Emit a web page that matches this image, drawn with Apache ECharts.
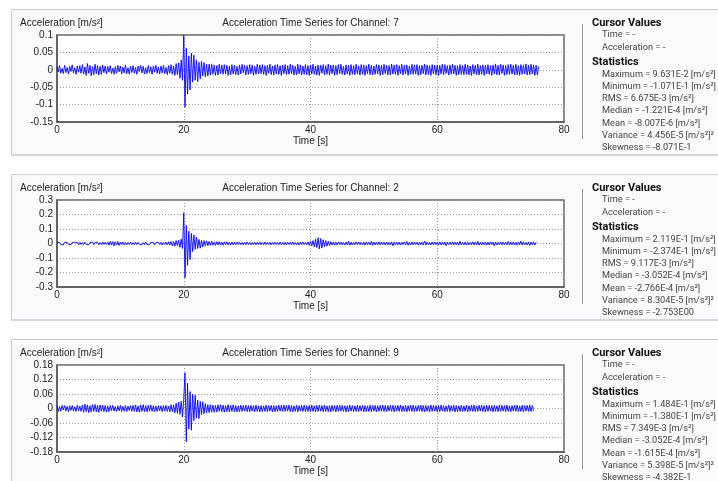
<!DOCTYPE html>
<html>
<head>
<meta charset="utf-8">
<script src="https://cdn.jsdelivr.net/npm/echarts@6/dist/echarts.min.js"></script>
<style>
html,body{margin:0;padding:0;background:#fff;}
#chart{width:718px;height:481px;}
</style>
</head>
<body>
<div id="chart"></div>
<script>
// ---- data (sample step 0.2 s, starting at 0 s) ----
const sampleStep = 0.2;
const channelNames = ['7', '2', '9'];
const xTicks = [0, 20, 40, 60, 80];

const ch7Values = [
 .009,-.006,.012,-.010,.004,-.011,.013,-.008,.007,-.012,.010,-.005,.014,-.009,.006,-.013,.011,-.007,.012,-.010,
 .015,-.012,.008,-.016,.018,-.010,.013,-.017,.009,-.014,.016,-.011,.012,-.015,.010,-.013,.014,-.008,.011,-.012,
 .010,-.007,.012,-.011,.005,-.013,.009,-.010,.013,-.006,.011,-.012,.008,-.009,.014,-.011,.006,-.012,.010,-.008,
 .012,-.010,.007,-.013,.011,-.005,.013,-.009,.010,-.012,.006,-.011,.012,-.008,.009,-.013,.011,-.007,.013,-.010,
 .008,-.012,.011,-.009,.013,-.011,.007,-.014,.012,-.010,.015,-.013,.011,-.016,.018,-.014,.020,-.024,.028,-.030,
 .100,-.107,.062,-.070,.040,-.058,.048,-.035,.042,-.030,.028,-.034,.022,-.026,.024,-.018,.021,-.020,.016,-.018,
 .016,-.015,.017,-.013,.014,-.016,.012,-.015,.016,-.011,.014,-.013,.015,-.012,.013,-.016,.011,-.014,.015,-.012,
 .013,-.014,.010,-.015,.014,-.012,.016,-.009,.013,-.015,.012,-.013,.015,-.011,.014,-.016,.010,-.013,.016,-.012,
 .014,-.011,.015,-.013,.012,-.016,.013,-.010,.016,-.014,.011,-.015,.014,-.012,.015,-.013,.012,-.016,.013,-.011,
 .015,-.014,.012,-.013,.016,-.011,.013,-.015,.010,-.014,.016,-.012,.014,-.015,.011,-.013,.015,-.014,.012,-.016,
 .014,-.012,.016,-.013,.011,-.015,.014,-.016,.013,-.010,.015,-.014,.012,-.013,.016,-.015,.013,-.011,.014,-.016,
 .012,-.014,.015,-.011,.016,-.013,.010,-.015,.014,-.012,.013,-.016,.015,-.013,.012,-.014,.016,-.012,.011,-.015,
 .015,-.013,.014,-.016,.012,-.011,.016,-.014,.013,-.015,.011,-.013,.015,-.012,.014,-.016,.013,-.014,.016,-.011,
 .013,-.015,.012,-.014,.016,-.012,.014,-.013,.015,-.016,.012,-.011,.016,-.015,.013,-.012,.014,-.016,.011,-.013,
 .016,-.013,.014,-.012,.015,-.016,.012,-.014,.013,-.011,.016,-.015,.014,-.013,.012,-.016,.015,-.012,.013,-.014,
 .014,-.016,.013,-.012,.016,-.014,.015,-.011,.012,-.015,.014,-.013,.016,-.012,.013,-.016,.012,-.014,.015,-.013,
 .012,-.014,.016,-.013,.014,-.015,.011,-.016,.015,-.012,.013,-.014,.016,-.015,.012,-.013,.014,-.016,.013,-.012,
 .015,-.013,.012,-.016,.014,-.012,.017,-.014,.013,-.015,.016,-.011,.014,-.016,.012,-.014,.015,-.013,.016,-.012,
 .013,-.015,.016,-.014,.012,-.016,.015,-.013,.014,-.012,.017,-.015,.013,-.014,.016,-.012,.014,-.016,.013,-.015,
 .010
];

const ch2Values = [
 .006,-.004,.008,-.007,.005,-.009,.007,-.005,.009,-.006,.004,-.008,.007,-.006,.008,-.005,.006,-.009,.008,-.007,
 .007,-.008,.009,-.005,.008,-.010,.006,-.007,.010,-.008,.007,-.006,.009,-.009,.006,-.008,.010,-.007,.008,-.006,
 .010,-.012,.015,-.011,.013,-.016,.012,-.010,.014,-.013,.009,-.008,.011,-.010,.007,-.009,.008,-.006,.009,-.008,
 .006,-.008,.009,-.007,.008,-.006,.007,-.009,.006,-.008,.009,-.007,.005,-.008,.007,-.006,.008,-.009,.007,-.005,
 .008,-.007,.009,-.010,.007,-.008,.010,-.009,.012,-.011,.014,-.016,.013,-.018,.020,-.015,.022,-.026,.030,-.034,
 .212,-.237,.125,-.150,.085,-.110,.070,-.055,.060,-.040,.045,-.035,.028,-.032,.022,-.024,.020,-.016,.018,-.015,
 .014,-.013,.015,-.012,.011,-.013,.012,-.010,.013,-.011,.010,-.012,.011,-.009,.012,-.010,.009,-.011,.010,-.009,
 .008,-.009,.010,-.007,.009,-.008,.007,-.010,.008,-.009,.010,-.007,.008,-.009,.007,-.008,.009,-.010,.008,-.007,
 .009,-.008,.007,-.009,.010,-.008,.008,-.007,.009,-.010,.007,-.008,.009,-.007,.008,-.009,.010,-.008,.007,-.009,
 .008,-.010,.009,-.007,.008,-.009,.010,-.008,.007,-.009,.008,-.010,.009,-.008,.010,-.007,.008,-.009,.011,-.012,
 .014,-.016,.020,-.024,.030,-.028,.040,-.038,.034,-.032,.026,-.022,.020,-.018,.015,-.014,.012,-.011,.010,-.012,
 .009,-.010,.011,-.008,.010,-.009,.008,-.011,.010,-.009,.016,-.012,.009,-.010,.008,-.009,.011,-.008,.010,-.009,
 .008,-.010,.009,-.011,.010,-.008,.009,-.010,.015,-.013,.010,-.009,.008,-.010,.011,-.009,.010,-.008,.009,-.011,
 .010,-.009,.008,-.010,.011,-.016,.009,-.010,.008,-.009,.010,-.011,.009,-.008,.010,-.009,.014,-.012,.009,-.010,
 .011,-.009,.010,-.008,.009,-.011,.010,-.009,.008,-.010,.017,-.011,.010,-.009,.008,-.010,.011,-.009,.010,-.008,
 .009,-.010,.011,-.009,.008,-.010,.010,-.015,.009,-.008,.010,-.009,.011,-.010,.009,-.008,.010,-.011,.016,-.010,
 .008,-.009,.010,-.011,.009,-.010,.008,-.009,.011,-.010,.010,-.009,.015,-.011,.009,-.010,.008,-.009,.010,-.011,
 .009,-.010,.011,-.008,.010,-.016,.009,-.010,.008,-.009,.011,-.010,.009,-.008,.010,-.009,.014,-.011,.010,-.009,
 .011,-.010,.009,-.012,.010,-.009,.016,-.011,.010,-.009,.008,-.010,.011,-.013,.010,-.009,.012,-.010,.008
];

const ch9Values = [
 .010,-.012,.008,-.011,.013,-.006,.012,-.010,.009,-.013,.011,-.008,.012,-.011,.007,-.012,.013,-.009,.010,-.012,
 .014,-.016,.018,-.013,.015,-.017,.012,-.015,.016,-.012,.017,-.014,.013,-.016,.015,-.011,.014,-.013,.012,-.015,
 .011,-.013,.012,-.009,.013,-.011,.008,-.012,.011,-.010,.013,-.012,.009,-.011,.012,-.013,.010,-.008,.012,-.011,
 .013,-.012,.015,-.014,.011,-.015,.014,-.012,.016,-.013,.012,-.014,.013,-.011,.015,-.012,.011,-.013,.010,-.012,
 .012,-.010,.011,-.013,.012,-.011,.013,-.012,.010,-.014,.016,-.013,.015,-.018,.022,-.020,.026,-.024,.030,-.035,
 .040,.148,-.138,.105,-.085,.070,-.090,.060,-.050,.055,-.040,.035,-.042,.030,-.025,.028,-.022,.020,-.018,.016,
 -.017,.016,-.015,.014,-.016,.013,-.014,.015,-.012,.016,-.013,.014,-.015,.012,-.013,.016,-.014,.013,-.012,.015,
 -.013,.012,-.014,.011,-.013,.014,-.012,.013,-.011,.014,-.013,.012,-.014,.013,-.011,.012,-.013,.014,-.012,.011,
 -.014,.012,-.013,.011,-.012,.014,-.013,.012,-.011,.013,-.014,.012,-.013,.011,-.012,.014,-.011,.013,-.012,.014,
 -.012,.013,-.011,.014,-.013,.012,-.014,.011,-.012,.013,-.014,.012,-.011,.013,-.012,.014,-.013,.011,-.012,.013,
 -.013,.014,-.012,.011,-.014,.013,-.012,.014,-.011,.012,-.013,.014,-.012,.011,-.013,.012,-.014,.013,-.011,.012,
 -.014,.013,-.012,.014,-.011,.013,-.012,.011,-.014,.012,-.013,.014,-.011,.012,-.013,.011,-.012,.014,-.013,.012,
 -.011,.013,-.014,.012,-.013,.011,-.012,.014,-.013,.012,-.011,.013,-.014,.012,-.012,.013,-.011,.014,-.012,.013,
 -.013,.012,-.011,.014,-.012,.013,-.014,.012,-.011,.013,-.012,.014,-.013,.011,-.012,.013,-.014,.012,-.011,.013,
 -.012,.014,-.013,.011,-.012,.013,-.011,.014,-.013,.012,-.014,.013,-.012,.011,-.013,.014,-.012,.013,-.011,.012,
 -.014,.012,-.013,.014,-.011,.012,-.013,.011,-.012,.014,-.013,.012,-.011,.013,-.014,.012,-.013,.011,-.012,.014,
 -.013,.011,-.012,.013,-.014,.012,-.011,.013,-.012,.014,-.013,.011,-.012,.013,-.011,.014,-.013,.012,-.014,.013,
 -.012,.013,-.011,.012,-.014,.013,-.012,.011,-.013,.014,-.012,.013,-.011,.012,-.013,.014,-.012,.011,-.013,.012,
 -.011,.013,-.012,.014,-.013,.011,-.012,.013,-.014,.012,-.011,.013,-.012,.014,-.013,.012,-.010
];

// y-axis ranges per channel
const yMins = [-0.15, -0.3, -0.18];
const yMaxs = [0.1, 0.3, 0.18];
const yIntervals = [0.05, 0.1, 0.06];

// statistics text
const statLabels = ['Maximum', 'Minimum', 'RMS', 'Median', 'Mean', 'Variance', 'Skewness'];
const statUnits = [' [m/s\u00b2]', ' [m/s\u00b2]', ' [m/s\u00b2]', ' [m/s\u00b2]', ' [m/s\u00b2]', ' [m/s\u00b2]\u00b2', ''];
const ch7Stats = ['9.631E-2', '-1.071E-1', '6.675E-3', '-1.221E-4', '-8.007E-6', '4.456E-5', '-8.071E-1'];
const ch2Stats = ['2.119E-1', '-2.374E-1', '9.117E-3', '-3.052E-4', '-2.766E-4', '8.304E-5', '-2.753E00'];
const ch9Stats = ['1.484E-1', '-1.380E-1', '7.349E-3', '-3.052E-4', '-1.615E-4', '5.398E-5', '-4.382E-1'];

const allValues = [ch7Values, ch2Values, ch9Values];
const allStats = [ch7Stats, ch2Stats, ch9Stats];

// ---- layout ----
const panelOffsets = [0, 165, 330];
const plotLeft = 57, plotWidth = 507, plotTop = 35, plotHeight = 87;
const axisFont = '"Liberation Sans", Arial, sans-serif';
const sideFont = 'Roboto, Lato, sans-serif';

const chart = echarts.init(document.getElementById('chart'), null, {renderer: 'canvas'});

const grids = [], xAxes = [], yAxes = [], series = [], graphics = [];

allValues.forEach(function (vals, p) {
  const off = panelOffsets[p];
  grids.push({left: plotLeft, top: plotTop + off, width: plotWidth, height: plotHeight,
    show: true, backgroundColor: '#ffffff', borderColor: '#666', borderWidth: 1.5});
  xAxes.push({type: 'value', gridIndex: p, min: xTicks[0], max: xTicks[xTicks.length - 1], interval: 20,
    name: 'Time [s]', nameLocation: 'middle', nameGap: 7,
    nameTextStyle: {fontFamily: axisFont, fontSize: 10, color: '#222'},
    axisLine: {show: true, onZero: false, lineStyle: {color: '#555', width: 1.5}},
    axisTick: {show: false},
    axisLabel: {fontFamily: axisFont, fontSize: 10, color: '#222', margin: 3},
    splitLine: {show: true, lineStyle: {color: '#999', type: [1, 2], width: 1}}
  });
  yAxes.push({type: 'value', gridIndex: p, min: yMins[p], max: yMaxs[p], interval: yIntervals[p],
    axisLine: {show: true, onZero: false, lineStyle: {color: '#555', width: 1.5}},
    axisTick: {show: false},
    axisLabel: {fontFamily: axisFont, fontSize: 10, color: '#222', margin: 4},
    splitLine: {show: true, lineStyle: {color: '#999', type: [1, 2], width: 1}}
  });
  series.push({type: 'line', xAxisIndex: p, yAxisIndex: p, symbol: 'none', sampling: 'none',
    animation: false, silent: true,
    lineStyle: {color: '#0000ff', width: 0.9},
    data: vals.map(function (v, i) { return [+(i * sampleStep).toFixed(2), v]; })
  });

  // panel box
  graphics.push({type: 'rect', z: -10, shape: {x: 11.5, y: 9.5 + off, width: 720, height: 146},
    style: {fill: '#fafafb', stroke: '#cacad4', lineWidth: 1}});
  graphics.push({type: 'line', z: -9, shape: {x1: 11, y1: 155 + off, x2: 720, y2: 155 + off},
    style: {stroke: '#d4d4de', lineWidth: 2}});
  // left axis unit label and title
  graphics.push({type: 'text', x: 20, y: 23 + off, style: {text: 'Acceleration [m/s\u00b2]',
    font: '10px ' + axisFont, fill: '#222', verticalAlign: 'middle', align: 'left'}});
  graphics.push({type: 'text', x: plotLeft + plotWidth / 2, y: 23 + off, style: {
    text: 'Acceleration Time Series for Channel: ' + channelNames[p],
    font: '10px ' + axisFont, fill: '#222', verticalAlign: 'middle', align: 'center'}});
  // divider
  graphics.push({type: 'line', shape: {x1: 582.5, y1: 24 + off, x2: 582.5, y2: 139 + off},
    style: {stroke: '#999', lineWidth: 1}});
  // side panel text
  graphics.push({type: 'text', x: 592, y: 23 + off, style: {text: 'Cursor Values',
    font: 'bold 11px ' + sideFont, fill: '#111', verticalAlign: 'middle'}});
  graphics.push({type: 'text', x: 602, y: 35 + off, style: {text: 'Time = -',
    font: '9.2px ' + sideFont, fill: '#444', verticalAlign: 'middle'}});
  graphics.push({type: 'text', x: 602, y: 47.5 + off, style: {text: 'Acceleration = -',
    font: '9.2px ' + sideFont, fill: '#444', verticalAlign: 'middle'}});
  graphics.push({type: 'text', x: 592, y: 62 + off, style: {text: 'Statistics',
    font: 'bold 11px ' + sideFont, fill: '#111', verticalAlign: 'middle'}});
  statLabels.forEach(function (lab, k) {
    graphics.push({type: 'text', x: 602, y: 74.5 + off + k * 12.2, style: {
      text: lab + ' = ' + allStats[p][k] + statUnits[k],
      font: '9.2px ' + sideFont, fill: '#444', verticalAlign: 'middle'}});
  });
});

chart.setOption({
  animation: false,
  backgroundColor: '#ffffff',
  grid: grids,
  xAxis: xAxes,
  yAxis: yAxes,
  series: series,
  graphic: {elements: graphics}
});
</script>
</body>
</html>
